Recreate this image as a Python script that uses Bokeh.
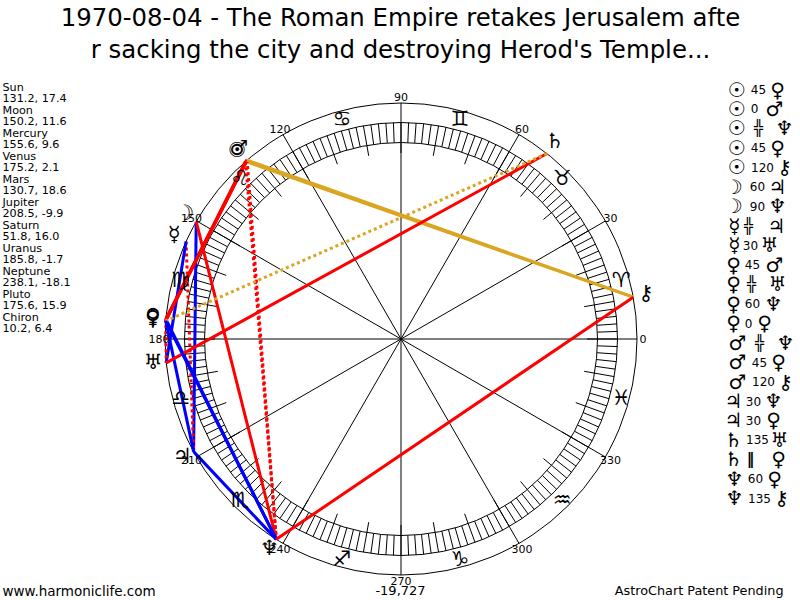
import math
from bokeh.plotting import figure
from bokeh.models import Range1d
from bokeh.core.properties import value
from bokeh.embed import file_html
from bokeh.resources import INLINE

# ---- data ----
title_lines = ["1970-08-04 - The Roman Empire retakes Jerusalem afte",
               "r sacking the city and destroying Herod's Temple..."]
planets = ["Sun", "Moon", "Mercury", "Venus", "Mars", "Jupiter", "Saturn", "Uranus", "Neptune", "Pluto", "Chiron"]
longitudes = [131.2, 150.2, 155.6, 175.2, 130.7, 208.5, 51.8, 185.8, 238.1, 175.6, 10.2]
declinations = [17.4, 11.6, 9.6, 2.1, 18.6, -9.9, 16.0, -1.7, -18.1, 15.9, 6.4]
planet_glyphs = ["☉", "☽", "☿", "♀", "♂", "♃", "♄", "♅", "♆", "♀", "⚷"]
sign_glyphs = ["♈", "♉", "♊", "♋", "♌", "♍", "♎", "♏", "♐", "♑", "♒", "♓"]
aspect_from = ["Sun", "Sun", "Sun", "Sun", "Sun", "Moon", "Moon", "Mercury", "Mercury", "Venus", "Venus",
               "Venus", "Venus", "Mars", "Mars", "Mars", "Jupiter", "Jupiter", "Saturn", "Saturn", "Neptune", "Neptune"]
aspect_to = ["Venus", "Mars", "Neptune", "Pluto", "Chiron", "Jupiter", "Neptune", "Jupiter", "Uranus", "Mars", "Uranus",
             "Neptune", "Pluto", "Neptune", "Pluto", "Chiron", "Neptune", "Pluto", "Uranus", "Pluto", "Pluto", "Chiron"]
aspect_kind = ["45", "0", "╬", "45", "120", "60", "90", "╬", "30", "45", "╬",
               "60", "0", "╬", "45", "120", "30", "30", "135", "‖", "60", "135"]
degree_labels = [0, 30, 60, 90, 120, 150, 180, 210, 240, 270, 300, 330]
footer_left, footer_mid, footer_right = "www.harmoniclife.com", "-19,727", "AstroChart Patent Pending"

# ---- layout (pixels) ----
CX, CY = 400.5, 338.5
R_OUT, R_BAND_O, R_BAND_I, R_TICK = 236, 216.5, 196.5, 186
R_SIGN, R_PLANET, R_DEG = 228, 249, 242
row_y0, row_dy = 89, 19.47
x_first = [736, 736, 736, 736, 736, 733, 733, 734, 734, 733, 733, 733, 733, 737, 737, 737, 733, 733, 733, 733, 734, 734]
x_mid = [758, 754, 758, 758, 762, 757, 757, 748, 750, 752, 751, 752, 748, 759, 759, 763, 753, 753, 757, 750, 755, 759]
x_last = [777, 774, 784, 777, 784, 777, 777, 776, 769, 774, 777, 773, 764, 785, 778, 785, 773, 773, 779, 778, 774, 781]

GLYPH_FONT = value("DejaVu Sans")
TEXT_FONT = value("DejaVu Sans")


def pol(r, deg):
    a = math.radians(deg)
    return CX + r * math.cos(a), CY - r * math.sin(a)


p = figure(width=800, height=600, x_range=Range1d(0, 800), y_range=Range1d(600, 0),
           output_backend="svg", toolbar_location=None, min_border=0, outline_line_color=None,
           background_fill_color="white", border_fill_color="white",
           styles={"position": "absolute", "left": "0px", "top": "0px"})
p.xaxis.visible = False
p.yaxis.visible = False
p.grid.visible = False

# rings
for r in (R_OUT, R_BAND_O, R_BAND_I):
    p.circle([CX], [CY], radius=r, fill_color=None, line_color="black", line_width=1)

# band ticks every 2 degrees, long ticks every 10
segs = [(R_BAND_I, R_BAND_O, d) for d in range(0, 360, 2)] + \
       [(R_TICK, R_BAND_I, d) for d in range(0, 360, 10)]
x0, y0, x1, y1 = [], [], [], []
for ri, ro, d in segs:
    a, b = pol(ri, d), pol(ro, d)
    x0.append(a[0]); y0.append(a[1]); x1.append(b[0]); y1.append(b[1])
p.segment(x0, y0, x1, y1, line_color="black", line_width=1)

# spokes
for d in degree_labels:
    a = pol(R_OUT, d)
    p.line([CX, a[0]], [CY, a[1]], line_color="black", line_width=1)

# aspects
lon = dict(zip(planets, longitudes))
styles = {"0": ("#FF0000", None), "30": ("#0000FF", None), "45": ("#FF0000", None), "60": ("#0000FF", None),
          "90": ("#FF0000", None), "120": ("#DAA520", None), "135": ("#FF0000", None),
          "╬": ("#FF0000", "3 3"), "‖": ("#DAA520", "3 3")}
for a, b, k in zip(aspect_from, aspect_to, aspect_kind):
    pa, pb = pol(R_OUT, lon[a]), pol(R_OUT, lon[b])
    col, dash = styles[k]
    p.line([pa[0], pb[0]], [pa[1], pb[1]], line_color=col, line_width=3,
           line_dash=dash if dash else "solid")

# degree labels
pts = [pol(R_DEG, d) for d in degree_labels]
p.text([q[0] for q in pts], [q[1] for q in pts], text=[str(d) for d in degree_labels],
       text_font=TEXT_FONT, text_font_size="11px", text_align="center", text_baseline="middle", text_color="black")

# signs
pts = [pol(R_SIGN, 15 + 30 * i) for i in range(12)]
p.text([q[0] for q in pts], [q[1] for q in pts], text=sign_glyphs, text_font=GLYPH_FONT,
       text_font_size="21px", text_align="center", text_baseline="middle", text_color="black")

# planet labels
pts = [pol(R_PLANET, l) for l in longitudes]
p.text([q[0] for q in pts], [q[1] - 2 for q in pts], text=planet_glyphs, text_font=GLYPH_FONT,
       text_font_size="21px", text_align="center", text_baseline="middle", text_color="black")

# title
p.text([400, 400], [17, 49], text=title_lines, text_font=TEXT_FONT, text_font_size="24.4px",
       text_align="center", text_baseline="middle", text_color="black")

# left list
lines = []
for n, l, d in zip(planets, longitudes, declinations):
    lines += [n, f"{l:.1f}, {d:.1f}"]
p.text([2] * len(lines), [86.5 + 11.5 * i for i in range(len(lines))], text=lines, text_font=TEXT_FONT,
       text_font_size="11.2px", text_align="left", text_baseline="middle", text_color="black")

# right aspect list
g = dict(zip(planets, planet_glyphs))
ys = [row_y0 + row_dy * i for i in range(len(aspect_kind))]
p.text(x_first, ys, text=[g[a] for a in aspect_from], text_font=GLYPH_FONT, text_font_size="20px",
       text_align="center", text_baseline="middle", text_color="black")
is_symbol = [k in ("╬", "‖") for k in aspect_kind]
num_i = [i for i, s in enumerate(is_symbol) if not s]
sym_i = [i for i, s in enumerate(is_symbol) if s]
p.text([x_mid[i] for i in num_i], [ys[i] for i in num_i], text=[aspect_kind[i] for i in num_i],
       text_font=TEXT_FONT, text_font_size="12px", text_align="center", text_baseline="middle", text_color="black")
p.text([x_mid[i] for i in sym_i], [ys[i] for i in sym_i], text=[aspect_kind[i] for i in sym_i],
       text_font=TEXT_FONT, text_font_size="15px", text_font_style="bold",
       text_align="center", text_baseline="middle", text_color="black")
p.text(x_last, ys, text=[g[a] for a in aspect_to], text_font=GLYPH_FONT, text_font_size="20px",
       text_align="center", text_baseline="middle", text_color="black")

# footer
p.text([2], [590], text=[footer_left], text_font=TEXT_FONT, text_font_size="13.5px",
       text_align="left", text_baseline="middle", text_color="black")
p.text([400], [590], text=[footer_mid], text_font=TEXT_FONT, text_font_size="13px",
       text_align="center", text_baseline="middle", text_color="black")
p.text([783], [590], text=[footer_right], text_font=TEXT_FONT, text_font_size="12.8px",
       text_align="right", text_baseline="middle", text_color="black")

open("out.html", "w").write(file_html(p, INLINE))
